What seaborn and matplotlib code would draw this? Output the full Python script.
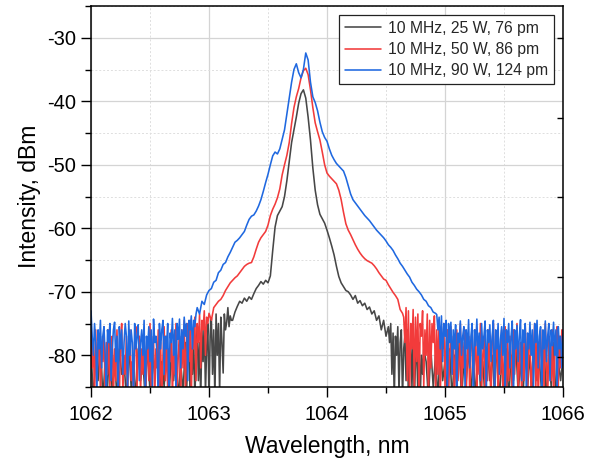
import numpy as np
import pandas as pd
import matplotlib
matplotlib.use("Agg")
import matplotlib.pyplot as plt
import seaborn as sns
from matplotlib.ticker import MultipleLocator, FixedLocator

# ---- data ----
labels = ["10 MHz, 25 W, 76 pm", "10 MHz, 50 W, 86 pm", "10 MHz, 90 W, 124 pm"]
colors = ["#474747", "#f23b3b", "#1f68e0"]

# --- 25 W (black) ---
black_far_left = [  # 1062.00 .. 1062.78, step 0.02
    -79, -87, -80, -84, -77, -87, -81, -85, -78, -86,
    -80, -87, -79, -83, -81, -87, -78, -85, -80, -87,
    -79, -84, -81, -87, -78, -86, -80, -83, -79, -87,
    -81, -85, -78, -87, -80, -84, -79, -87, -81, -86,
]
black_near_left = [  # 1062.80 .. 1063.19, step 0.01
    -78, -86, -80, -76.5, -87, -79, -83, -77, -87, -80,
    -75.5, -84, -78, -87, -76, -81, -74.5, -86, -79, -75,
    -87, -77, -74.2, -83, -76, -87, -73.5, -80, -75, -86,
    -74, -78, -82.8, -73.5, -76, -74.8, -72.5, -75.5, -73.8, -74.5,
]
black_core = [  # 1063.20 .. 1064.52, step 0.02
    -74.5, -73.2, -72.3, -71.5, -71.8, -71.0, -71.5, -70.8, -71.2, -70.3,
    -69.5, -69.0, -68.4, -68.8, -68.2, -68.6, -67.5, -63.5, -59.8, -58.0,
    -57.3, -56.6, -55.0, -52.5, -49.5, -46.5, -44.5, -42.5, -40.3, -38.8,
    -38.2, -39.5, -42.5, -46.1, -50.5, -54.0, -56.3, -57.8, -58.5, -59.2,
    -60.3, -61.5, -62.8, -64.2, -66.0, -67.6, -68.6, -69.2, -69.8, -70.0,
    -70.5, -71.2, -70.6, -71.8, -71.4, -72.2, -71.8, -72.8, -72.4, -73.5,
    -73.0, -74.5, -73.8, -76, -74.5, -77, -75.5,
]
black_near_right = [  # 1064.53 .. 1064.82, step 0.01
    -78, -75, -83, -76.5, -87, -77, -80, -75.5, -86, -78,
    -76, -87, -79, -77, -84, -76, -87, -80, -78, -85,
    -77, -87, -81, -79, -86, -78, -87, -80, -83, -79,
]
black_far_right = [  # 1064.84 .. 1066.00, step 0.02
    -81, -87, -79, -85, -80, -87, -78, -84, -81, -86,
    -79, -87, -80, -85, -78, -87, -81, -84, -79, -86,
    -80, -87, -78, -85, -81, -87, -79, -84, -80, -86,
    -78, -87, -81, -85, -79, -87, -80, -84, -78, -86,
    -81, -87, -79, -85, -80, -87, -78, -84, -81, -86,
    -79, -87, -80, -85, -78, -87, -81, -84, -80,
]

# --- 50 W (red) ---
red_left = [  # 1062.00 .. 1062.99, step 0.01
    -75, -82, -78, -87, -76, -84, -80, -77, -86, -79,
    -81, -75.5, -87, -78, -83, -76, -85, -80, -77, -87,
    -79, -84, -76, -82, -87, -78, -75, -86, -80, -83,
    -77, -87, -79, -76, -84, -81, -87, -78, -75.5, -85,
    -80, -77, -86, -79, -83, -76, -87, -81, -78, -84,
    -75, -86, -80, -77, -87, -79, -82, -76, -85, -78,
    -87, -80, -75.5, -84, -77, -86, -79, -81, -76, -87,
    -78, -83, -75, -85, -80, -77, -87, -76, -82, -74.5,
    -86, -78, -75, -81, -74.5, -87, -76, -79, -74, -84,
    -75, -78, -73.5, -82, -74.5, -76, -73, -80, -74, -75,
]
red_core = [  # 1063.00 .. 1064.64, step 0.02
    -73.4, -74.5, -72.5, -72.0, -71.5, -71.2, -70.6, -69.8, -69.2, -68.6,
    -68.2, -67.8, -67.5, -67.0, -66.5, -66.0, -65.7, -65.5, -65.4, -64.5,
    -63.3, -62.2, -61.5, -61.0, -60.5, -59.5, -58.0, -57.0, -56.2, -55.2,
    -53.8, -51.6, -50.0, -48.5, -46.5, -43.5, -41.0, -39.3, -38.0, -36.3,
    -35.2, -34.8, -35.8, -38.2, -41.0, -43.4, -44.8, -46.1, -48.0, -50.0,
    -51.3, -51.8, -52.2, -52.6, -53.0, -54.0, -55.5, -57.5, -59.3, -60.3,
    -61.0, -61.8, -62.6, -63.3, -63.9, -64.4, -64.8, -65.1, -65.3, -65.5,
    -65.9, -66.4, -67.0, -67.5, -68.0, -68.2, -68.9, -69.5, -70.1, -70.6,
    -71.2, -72.8, -73.4,
]
red_right = [  # 1064.65 .. 1066.00, step 0.01
    -74, -78, -72.5, -84, -73, -87, -75, -79, -72.8, -86,
    -74, -81, -73.5, -87, -75, -77, -73, -85, -76, -80,
    -73.5, -87, -74.5, -82, -75, -78, -73.8, -86, -76, -83,
    -74.5, -87, -77, -79, -75, -85, -78, -76, -87, -80,
    -75.5, -83, -77, -87, -79, -76, -84, -81, -75, -87,
    -78, -82, -76, -86, -80, -77, -87, -79, -75.5, -84,
    -81, -76, -87, -78, -83, -75, -86, -80, -77, -87,
    -79, -84, -76, -82, -87, -78, -75, -85, -80, -77,
    -87, -79, -83, -76, -86, -81, -75.5, -87, -78, -84,
    -77, -80, -87, -76, -83, -79, -75, -86, -81, -78,
    -87, -77, -84, -75.5, -80, -86, -78, -76, -87, -82,
    -79, -75, -85, -77, -87, -80, -76, -83, -78, -86,
    -75, -81, -87, -77, -79, -84, -76, -87, -80, -78,
    -75.5, -85, -77, -82, -76, -79,
]

# --- 90 W (blue) ---
blue_left = [  # 1062.00 .. 1062.89, step 0.01
    -73, -77, -80, -75, -78, -86, -76, -79, -74.5, -82,
    -77, -75.5, -80, -87, -76, -78, -75, -84, -79, -76,
    -74.8, -81, -77, -87, -75.5, -79, -76, -83, -78, -75,
    -77, -86, -74.6, -80, -76, -78, -87, -75, -79, -77,
    -75.2, -84, -78, -76, -80, -74.5, -87, -77, -79, -75.5,
    -81, -76, -85, -74.3, -78, -77, -80, -87, -75, -79,
    -76, -74.5, -83, -77, -79, -75, -87, -76.5, -78, -74.2,
    -80, -76, -86, -75, -77.5, -74.3, -82, -76, -79, -74,
    -77, -75, -84, -74.5, -76, -73.8, -79, -74.5, -75.5, -73.5,
]
blue_core = [  # 1062.90 .. 1064.92, step 0.02
    -72.5, -73.5, -71.5, -72, -70.5,
    -69.8, -69.5, -68.5, -68.2, -67, -66.6, -65.7, -65.4, -64.5, -63.8,
    -63.0, -62.2, -61.9, -61.5, -61.0, -60.5, -59.5, -58.6, -58.1, -57.9,
    -57.3, -56.5, -55.5, -54.2, -52.8, -51.5, -50.0, -48.6, -48.0, -48.3,
    -47.5, -46.0, -44.5, -42.0, -39.5, -37.0, -35.0, -34.1, -35.5, -36.3,
    -35.0, -32.4, -33.5, -37.0, -39.3, -40.2, -41.5, -43.3, -44.8, -45.7,
    -46.3, -47.5, -48.5, -49.2, -49.8, -50.2, -50.6, -51.0, -52.0, -53.3,
    -54.6, -55.5, -56.0, -56.5, -57.0, -57.5, -58.0, -58.4, -58.8, -59.3,
    -59.8, -60.3, -60.7, -61.1, -61.5, -62.0, -62.6, -63.0, -63.5, -64.2,
    -64.8, -65.5, -66.0, -66.6, -67.2, -67.7, -68.5, -69.0, -69.6, -70.0,
    -70.5, -71.2, -71.5, -72.2, -72.5, -73.2, -73.4,
]
blue_right = [  # 1064.93 .. 1066.00, step 0.01
    -73.6, -76, -74, -79, -73.8, -81, -75, -77, -74.5, -86,
    -75, -78, -74.8, -83, -76, -79, -75.2, -87, -76.5, -78,
    -74.6, -80, -77, -75.5, -85, -76, -79, -74.4, -82, -77,
    -75, -87, -76, -78.5, -74.3, -80, -76.5, -84, -75, -79,
    -77, -74.6, -86, -76, -78, -75.2, -81, -77, -74.5, -87,
    -76, -79, -75, -83, -77.5, -75.5, -80, -74.2, -86, -76,
    -78, -75, -82, -77, -74.6, -87, -76, -79, -75.3, -81,
    -77, -74.4, -84, -76, -78, -75, -87, -76.5, -79, -74.8,
    -80, -76, -85, -75, -78, -74.5, -82, -77, -75.5, -87,
    -76, -79, -74.6, -81, -77, -75, -84, -76, -78.5, -74.8,
    -80, -76, -86, -75.5, -79, -77, -82, -76,
]

# (start wavelength, step) of each segment
series_segments = [
    [(1062.00, 0.02, black_far_left), (1062.80, 0.01, black_near_left),
     (1063.20, 0.02, black_core), (1064.53, 0.01, black_near_right),
     (1064.84, 0.02, black_far_right)],
    [(1062.00, 0.01, red_left), (1063.00, 0.02, red_core),
     (1064.65, 0.01, red_right)],
    [(1062.00, 0.01, blue_left), (1062.90, 0.02, blue_core),
     (1064.93, 0.01, blue_right)],
]

# ---- figure ----
sns.set_theme(style="white")
plt.rcParams["font.family"] = ["Liberation Sans", "DejaVu Sans"]
plt.rcParams["axes.unicode_minus"] = False

fig = plt.figure(figsize=(5.9, 4.62), dpi=100)
ax = fig.add_axes([91 / 590, 1 - 387 / 462, (563 - 91) / 590, (387 - 6) / 462])

for segs, lab, col in zip(series_segments, labels, colors):
    wl = np.concatenate([s + st * np.arange(len(v)) for s, st, v in segs])
    val = np.concatenate([np.asarray(v, float) for _, _, v in segs])
    df = pd.DataFrame({"Wavelength": wl, "Intensity": val})
    sns.lineplot(data=df, x="Wavelength", y="Intensity", color=col, lw=1.15,
                 label=lab, ax=ax, estimator=None, sort=False)

ax.set_xlim(1062, 1066)
ax.set_ylim(-85, -25)
ax.xaxis.set_major_locator(MultipleLocator(1))
ax.xaxis.set_minor_locator(MultipleLocator(0.5))
ax.yaxis.set_major_locator(FixedLocator([-30, -40, -50, -60, -70, -80]))
ax.yaxis.set_minor_locator(MultipleLocator(5))

ax.grid(True, which="major", color="#d4d4d4", lw=0.9, ls="-")
ax.grid(True, which="minor", color="#dedede", lw=0.7, ls=(0, (2, 2)))
ax.set_axisbelow(True)

for sp in ax.spines.values():
    sp.set_visible(True)
    sp.set_color("black")
    sp.set_linewidth(1.1)

ax.tick_params(axis="both", which="major", direction="out", length=7, width=1.0,
               color="black", labelsize=14.5, pad=4, left=True, bottom=True,
               labelcolor="black")
ax.tick_params(axis="both", which="minor", direction="out", length=4, width=1.0,
               color="black", left=True, bottom=True)
ax.tick_params(axis="x", which="major", pad=6)

# right-hand inner ticks (as in the reference)
axr = ax.twinx()
axr.set_ylim(-85, -25)
axr.yaxis.set_major_locator(FixedLocator([-30, -42.6, -55.1, -67.7, -80.2]))
axr.tick_params(axis="y", which="major", direction="in", length=4, width=1.0,
                color="black", right=True, labelright=False)
axr.grid(False)
for sp in axr.spines.values():
    sp.set_visible(False)

ax.set_xlabel("Wavelength, nm", fontsize=16.5, labelpad=8, color="black")
ax.set_ylabel("Intensity, dBm", fontsize=16.5, labelpad=4, color="black")

leg = ax.legend(loc="upper right", frameon=True, fancybox=False, framealpha=1,
                edgecolor="#222222", fontsize=11.3, handlelength=2.3,
                borderaxespad=0.6, labelspacing=0.4, borderpad=0.35,
                handletextpad=0.45)
leg.get_frame().set_linewidth(0.9)

fig.savefig("out.png", dpi=100)
